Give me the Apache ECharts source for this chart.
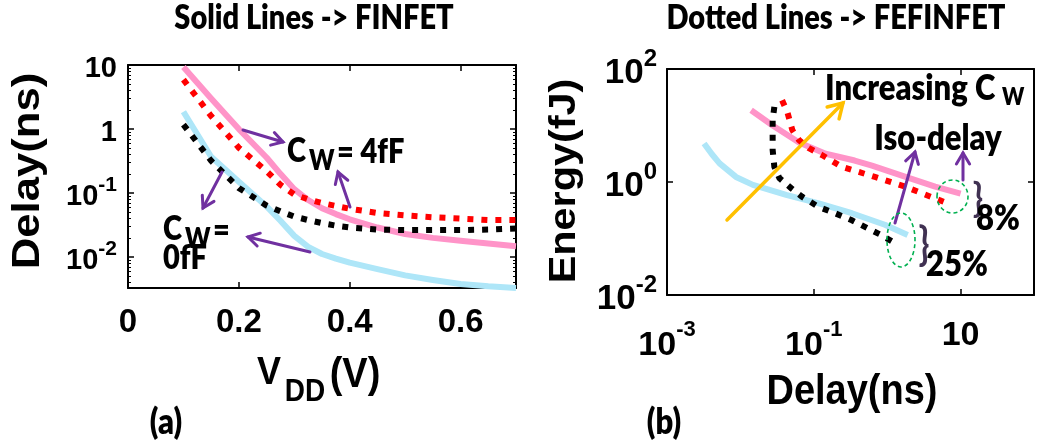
<!DOCTYPE html>
<html>
<head>
<meta charset="utf-8">
<script src="https://cdn.jsdelivr.net/npm/echarts@6/dist/echarts.min.js"></script>
<style>
  html, body { margin: 0; padding: 0; background: #fff; }
  #chart { width: 1037px; height: 444px; }
</style>
</head>
<body>
<div id="chart"></div>
<script>
// ---- Panel (a): delay versus supply voltage ----
const vdd = [0.1, 0.15, 0.2, 0.25, 0.275, 0.3, 0.325, 0.35, 0.375, 0.4, 0.45, 0.5, 0.55, 0.6, 0.65, 0.7];
const delayFinfet4fF   = [9.3, 3.0, 1.0, 0.36, 0.2, 0.115, 0.078, 0.058, 0.047, 0.039, 0.029, 0.023, 0.020, 0.018, 0.0163, 0.0148];
const delayFefinfet4fF = [5.9, 1.6, 0.51, 0.22, 0.135, 0.095, 0.08, 0.07, 0.063, 0.057, 0.049, 0.045, 0.042, 0.040, 0.038, 0.038];
const delayFefinfet0fF = [1.17, 0.32, 0.12, 0.064, 0.052, 0.043, 0.038, 0.034, 0.031, 0.029, 0.027, 0.0265, 0.0265, 0.0265, 0.027, 0.028];
const delayFinfet0fF   = [1.86, 0.37, 0.15, 0.062, 0.037, 0.0215, 0.0145, 0.0112, 0.0095, 0.0082, 0.0065, 0.0052, 0.0044, 0.0038, 0.0035, 0.0033];

// ---- Panel (b): energy versus delay ----
const edFinfet4fFDelay    = [0.014, 0.0275, 0.063, 0.145, 0.36, 0.62, 1.7, 4.5, 10];
const edFinfet4fFEnergy   = [18.6, 10.0, 5.0, 3.16, 2.4, 1.95, 1.26, 0.83, 0.62];
const edFefinfet4fFDelay  = [0.037, 0.044, 0.051, 0.063, 0.085, 0.129, 0.24, 0.68, 1.74, 6.3];
const edFefinfet4fFEnergy = [28, 16.6, 8.3, 5.5, 4.0, 3.0, 1.86, 1.23, 0.83, 0.43];
const edFefinfet0fFDelay  = [0.029, 0.0275, 0.0275, 0.0275, 0.029, 0.034, 0.049, 0.069, 0.117, 0.195, 0.33, 0.55, 0.83, 1.2];
const edFefinfet0fFEnergy = [21.4, 12.6, 6.3, 3.7, 1.86, 1.17, 0.78, 0.55, 0.36, 0.28, 0.21, 0.15, 0.115, 0.087];
const edFinfet0fFDelay    = [0.0032, 0.0041, 0.0052, 0.0087, 0.0148, 0.042, 0.117, 0.33, 0.93, 1.9];
const edFinfet0fFEnergy   = [4.8, 3.1, 2.14, 1.23, 0.89, 0.59, 0.42, 0.28, 0.175, 0.115];

// ---- Tick labels ----
const vddTickLabels = ['0', '0.2', '0.4', '0.6'];
const delayTickExp  = [-2, -1, 0, 1];      // panel (a) y
const edDelayTickExp = [-3, -1, 1];        // panel (b) x
const energyTickExp = [-2, 0, 2];          // panel (b) y

const ARIAL = "'Liberation Sans', Arial, sans-serif";
const LATO = "Lato, 'Open Sans', sans-serif";

const PINK = '#ff94c8', BLUE = '#aee6f8', RED = '#ff0000', BLACK = '#000000';
const PURPLE = '#7030a0', GOLD = '#ffc000', GREEN = '#00b050', BRACE = '#403152';

const zip = (xs, ys) => xs.map((x, i) => [x, ys[i]]);

function exponentOf(v) {
  const e = Math.log10(v);
  const r = Math.round(e);
  return Math.abs(e - r) < 1e-6 ? r : null;
}

const axisLine = { show: true, onZero: false, lineStyle: { color: '#000', width: 2 } };
const tickIn = { show: true, inside: true, length: 6, lineStyle: { color: '#000', width: 1.5 } };
const noSplit = { show: false };

function richStyle(base, sup, lh, supLh) {
  return {
    b: { fontFamily: ARIAL, fontWeight: 'bold', fontSize: base, color: '#000', lineHeight: lh, verticalAlign: 'bottom' },
    p: { fontFamily: ARIAL, fontWeight: 'bold', fontSize: base, color: '#000', lineHeight: lh - 16, verticalAlign: 'top' },
    s: { fontFamily: ARIAL, fontWeight: 'bold', fontSize: sup, color: '#000', lineHeight: supLh, verticalAlign: 'top' }
  };
}

const leftGrid = { left: 128, top: 65, width: 388, height: 223 };
const rightGrid = { left: 667, top: 69, width: 368, height: 226 };

const xAxes = [
  {
    gridIndex: 0, type: 'value', min: 0, max: 0.7, interval: 0.2, position: 'bottom',
    axisLine, axisTick: tickIn, splitLine: noSplit,
    axisLabel: {
      margin: 18, showMaxLabel: false,
      fontFamily: ARIAL, fontWeight: 'bold', fontSize: 33, color: '#000',
      formatter: v => {
        const i = Math.round(v / 0.2);
        return Math.abs(v - i * 0.2) < 1e-9 && vddTickLabels[i] !== undefined ? vddTickLabels[i] : '';
      }
    }
  },
  {
    gridIndex: 0, type: 'value', min: 0, max: 0.7, interval: 0.2, position: 'top',
    axisLine, axisTick: tickIn, splitLine: noSplit, axisLabel: { show: false }
  },
  {
    gridIndex: 1, type: 'log', min: 0.001, max: 100, interval: 2, position: 'bottom',
    axisLine, axisTick: tickIn, splitLine: noSplit, minorTick: { show: false },
    axisLabel: {
      margin: 24,
      rich: richStyle(34, 22, 44, 16),
      formatter: v => {
        const r = exponentOf(v);
        if (r === null || !edDelayTickExp.includes(r)) return '';
        return r === 1 ? '{p|10}' : '{b|10}{s|' + r + '}';
      }
    }
  },
  {
    gridIndex: 1, type: 'log', min: 0.001, max: 100, interval: 2, position: 'top',
    axisLine, axisTick: tickIn, splitLine: noSplit, axisLabel: { show: false }
  }
];

const yAxes = [
  {
    gridIndex: 0, type: 'log', min: 0.0033, max: 10, position: 'left',
    axisLine, axisTick: tickIn, splitLine: noSplit,
    minorTick: { show: true, splitNumber: 9, length: 3, lineStyle: { color: '#000', width: 1 } },
    axisLabel: {
      margin: 11,
      rich: richStyle(29, 21, 36, 16),
      formatter: v => {
        const r = exponentOf(v);
        if (r === null || !delayTickExp.includes(r)) return '';
        if (r === 0) return '{b|1}';
        if (r === 1) return '{b|10}';
        return '{b|10}{s|' + r + '}';
      }
    }
  },
  {
    gridIndex: 0, type: 'log', min: 0.0033, max: 10, position: 'right',
    axisLine, axisTick: tickIn, splitLine: noSplit,
    minorTick: { show: true, splitNumber: 9, length: 3, lineStyle: { color: '#000', width: 1 } },
    axisLabel: { show: false }
  },
  {
    gridIndex: 1, type: 'log', min: 0.01, max: 100, interval: 2, position: 'left',
    axisLine, axisTick: tickIn, splitLine: noSplit,
    axisLabel: {
      margin: 10,
      rich: richStyle(35, 24, 44, 18),
      formatter: v => {
        const r = exponentOf(v);
        if (r === null || !energyTickExp.includes(r)) return '';
        return '{b|10}{s|' + r + '}';
      }
    }
  },
  {
    gridIndex: 1, type: 'log', min: 0.01, max: 100, interval: 2, position: 'right',
    axisLine, axisTick: tickIn, splitLine: noSplit, axisLabel: { show: false }
  }
];

function solid(name, data, color, xi, yi) {
  return {
    name, type: 'line', xAxisIndex: xi, yAxisIndex: yi, data,
    symbol: 'none', silent: true, z: 2,
    lineStyle: { color, width: 6, type: 'solid', cap: 'butt', join: 'round' }
  };
}
function dotted(name, data, color, xi, yi) {
  return {
    name, type: 'line', xAxisIndex: xi, yAxisIndex: yi, data,
    symbol: 'none', silent: true, z: 3,
    lineStyle: { color, width: 6, type: [6, 8], cap: 'butt', join: 'miter' }
  };
}

const series = [
  solid('FINFET, CW = 4fF', zip(vdd, delayFinfet4fF), PINK, 0, 0),
  solid('FINFET, CW = 0fF', zip(vdd, delayFinfet0fF), BLUE, 0, 0),
  dotted('FEFINFET, CW = 4fF', zip(vdd, delayFefinfet4fF), RED, 0, 0),
  dotted('FEFINFET, CW = 0fF', zip(vdd, delayFefinfet0fF), BLACK, 0, 0),
  solid('FINFET, CW = 4fF (E-D)', zip(edFinfet4fFDelay, edFinfet4fFEnergy), PINK, 2, 2),
  solid('FINFET, CW = 0fF (E-D)', zip(edFinfet0fFDelay, edFinfet0fFEnergy), BLUE, 2, 2),
  dotted('FEFINFET, CW = 4fF (E-D)', zip(edFefinfet4fFDelay, edFefinfet4fFEnergy), RED, 2, 2),
  dotted('FEFINFET, CW = 0fF (E-D)', zip(edFefinfet0fFDelay, edFefinfet0fFEnergy), BLACK, 2, 2)
];

// ---- annotation helpers ----
function label(text, x, y, font, opt) {
  opt = opt || {};
  return {
    type: 'text', x, y, z: 20, silent: true,
    rotation: opt.rotation || 0,
    scaleX: opt.sx || 1, scaleY: opt.sy || 1,
    style: {
      text, font, fill: opt.color || '#000',
      textAlign: opt.align || 'center', textVerticalAlign: 'middle'
    }
  };
}
function arrow(x1, y1, x2, y2, color, width, head) {
  const dx = x2 - x1, dy = y2 - y1, len = Math.hypot(dx, dy);
  const ux = dx / len, uy = dy / len, nx = -uy, ny = ux;
  const bx = x2 - ux * head, by = y2 - uy * head, w = head * 0.6;
  return [
    { type: 'line', z: 18, silent: true, shape: { x1, y1, x2, y2 },
      style: { stroke: color, lineWidth: width, lineCap: 'round' } },
    { type: 'polyline', z: 18, silent: true,
      shape: { points: [[bx + nx * w, by + ny * w], [x2, y2], [bx - nx * w, by - ny * w]] },
      style: { stroke: color, lineWidth: width, fill: null, lineJoin: 'miter', lineCap: 'round' } }
  ];
}
function ring(cx, cy, rx, ry) {
  return { type: 'ellipse', z: 19, silent: true, shape: { cx, cy, rx, ry },
    style: { stroke: GREEN, lineWidth: 1.6, lineDash: [4, 3], fill: null } };
}

const SY = 1.15;
const HEAVY = '800 ';
const graphic = [
  // panel headings
  label('Solid Lines -> FINFET', 314, 18, HEAVY + '29px ' + LATO, { sy: SY }),
  label('Dotted Lines -> FEFINFET', 836, 18, HEAVY + '29px ' + LATO, { sy: SY }),
  // axis titles
  label('Delay(ns)', 29, 171, 'bold 38px ' + ARIAL, { rotation: Math.PI / 2, sx: 1.15 }),
  label('Energy(fJ)', 565, 181, 'bold 36px ' + ARIAL, { rotation: Math.PI / 2, sx: 1.15 }),
  label('V', 269, 373, 'bold 36px ' + ARIAL, { sy: 1.1 }),
  label('DD', 305, 393, 'bold 28px ' + ARIAL, { sy: 1.1 }),
  label('(V)', 355, 375, 'bold 38px ' + ARIAL, { sy: 1.1 }),
  label('Delay(ns)', 852, 392, 'bold 38px ' + ARIAL, { sy: 1.1 }),
  label('(a)', 166, 422, HEAVY + '31px ' + LATO, { sy: SY }),
  label('(b)', 664, 422, HEAVY + '31px ' + LATO, { sy: SY }),
  // panel (a) callouts
  label('C', 287, 151, HEAVY + '29px ' + LATO, { align: 'left', sy: SY }),
  label('W', 309, 161, HEAVY + '24px ' + LATO, { align: 'left', sy: SY }),
  label('= 4fF', 337, 152, HEAVY + '29px ' + LATO, { align: 'left', sy: SY }),
  label('C', 163, 229, HEAVY + '29px ' + LATO, { align: 'left', sy: SY }),
  label('W', 185, 239, HEAVY + '24px ' + LATO, { align: 'left', sy: SY }),
  label('=', 213, 230, HEAVY + '29px ' + LATO, { align: 'left', sy: SY }),
  label('0fF', 163, 258, HEAVY + '29px ' + LATO, { align: 'left', sy: SY }),
  ...arrow(243, 130, 283, 142, PURPLE, 3, 11),
  ...arrow(350, 207, 338, 172, PURPLE, 3, 11),
  ...arrow(222, 172, 203, 208, PURPLE, 3, 11),
  ...arrow(310, 252, 248, 237, PURPLE, 3, 11),
  // panel (b) callouts
  ...arrow(727, 220, 843, 103, GOLD, 3.5, 14),
  label('Increasing C', 825, 88, HEAVY + '31px ' + LATO, { align: 'left', sy: SY }),
  label('W', 1002, 97, HEAVY + '21px ' + LATO, { align: 'left', sy: SY }),
  label('Iso-delay', 938, 138, HEAVY + '31px ' + LATO, { sy: SY }),
  ...arrow(895, 223, 915, 152, PURPLE, 3, 11),
  ...arrow(963, 180, 963, 153, PURPLE, 3, 11),
  ring(952.5, 196.5, 15.5, 16.5),
  ring(901, 240, 14, 27),
  label('}', 978, 199, 'bold 34px ' + LATO, { color: BRACE, sy: 1.2 }),
  label('}', 924, 245, 'bold 36px ' + LATO, { color: BRACE, sy: 1.25 }),
  label('8%', 998, 218, HEAVY + '31px ' + LATO, { sy: SY }),
  label('25%', 957, 264, HEAVY + '31px ' + LATO, { sy: SY })
];

const chart = echarts.init(document.getElementById('chart'), null, { renderer: 'canvas' });
chart.setOption({
  animation: false,
  backgroundColor: '#ffffff',
  grid: [leftGrid, rightGrid],
  xAxis: xAxes,
  yAxis: yAxes,
  series,
  graphic
});
</script>
</body>
</html>
